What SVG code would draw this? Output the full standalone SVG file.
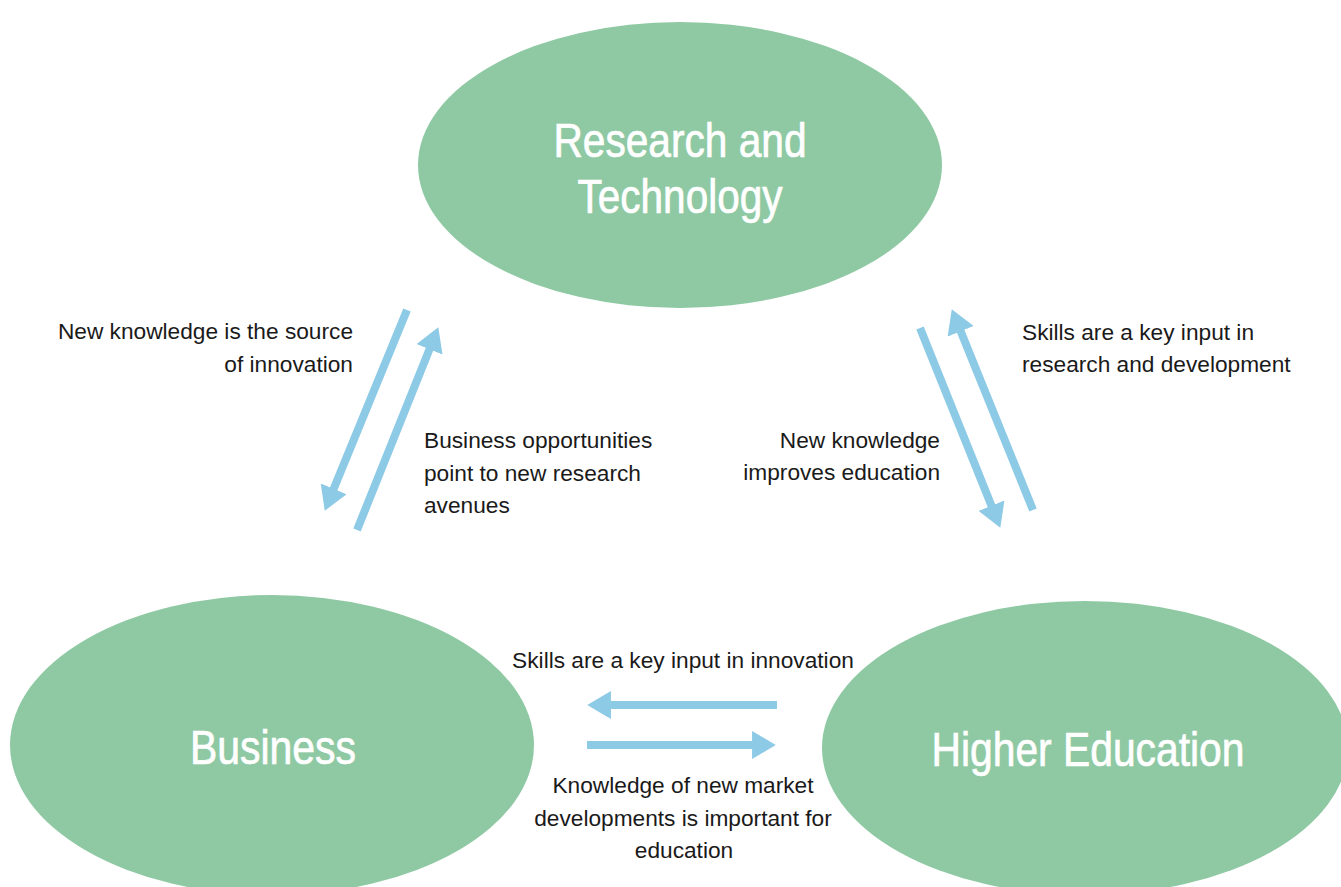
<svg xmlns="http://www.w3.org/2000/svg" width="1341" height="887" viewBox="0 0 1341 887">
<style>
.node{fill:#8fc9a4;}
.nlabel{fill:#ffffff;stroke:#ffffff;stroke-width:0.7;font-family:"Liberation Sans",Arial,sans-serif;font-size:48px;text-anchor:middle;}
.lbl{fill:#1a1a1a;font-family:"Liberation Sans",Arial,sans-serif;font-size:22.7px;}
.arr{stroke:#8dcae6;stroke-width:8;fill:none;marker-end:url(#head);}
</style>
<defs>
<marker id="head" markerUnits="userSpaceOnUse" markerWidth="24" markerHeight="28" refX="12" refY="13" orient="auto" viewBox="0 0 22 26">
<path d="M0,0 L22,13 L0,26 z" fill="#8dcae6"/>
</marker>
</defs>
<rect width="1341" height="887" fill="#ffffff"/>
<g id="research">
<ellipse class="node" cx="680" cy="165" rx="262" ry="143"/>
<text class="nlabel" x="680" y="157" textLength="253" lengthAdjust="spacingAndGlyphs">Research and</text>
<text class="nlabel" x="680" y="213" textLength="205" lengthAdjust="spacingAndGlyphs">Technology</text>
</g>
<g id="business">
<ellipse class="node" cx="272" cy="745" rx="262" ry="150"/>
<text class="nlabel" x="273" y="764" textLength="166" lengthAdjust="spacingAndGlyphs">Business</text>
</g>
<g id="higher-education">
<ellipse class="node" cx="1085" cy="748" rx="263" ry="147"/>
<text class="nlabel" x="1088" y="766" textLength="313" lengthAdjust="spacingAndGlyphs">Higher Education</text>
</g>
<g id="connectors">
<line class="arr" x1="407" y1="310" x2="328.8" y2="500.8"/>
<line class="arr" x1="357" y1="530" x2="434.3" y2="337.3"/>
<line class="arr" x1="920" y1="328" x2="996.3" y2="517.7"/>
<line class="arr" x1="1033" y1="510" x2="955.8" y2="319.3"/>
<line class="arr" x1="777" y1="705" x2="598" y2="705"/>
<line class="arr" x1="587" y1="745" x2="765" y2="745"/>
</g>
<g id="labels">
<text class="lbl" text-anchor="end" x="353" y="339">New knowledge is the source</text>
<text class="lbl" text-anchor="end" x="353" y="372">of innovation</text>
<text class="lbl" x="424" y="448">Business opportunities</text>
<text class="lbl" x="424" y="481">point to new research</text>
<text class="lbl" x="424" y="513">avenues</text>
<text class="lbl" x="1022" y="340">Skills are a key input in</text>
<text class="lbl" x="1022" y="372">research and development</text>
<text class="lbl" text-anchor="end" x="940" y="448">New knowledge</text>
<text class="lbl" text-anchor="end" x="940" y="480">improves education</text>
<text class="lbl" text-anchor="middle" x="683" y="668">Skills are a key input in innovation</text>
<text class="lbl" text-anchor="middle" x="683" y="793">Knowledge of new market</text>
<text class="lbl" text-anchor="middle" x="683" y="826">developments is important for</text>
<text class="lbl" text-anchor="middle" x="684" y="858">education</text>
</g>
</svg>
